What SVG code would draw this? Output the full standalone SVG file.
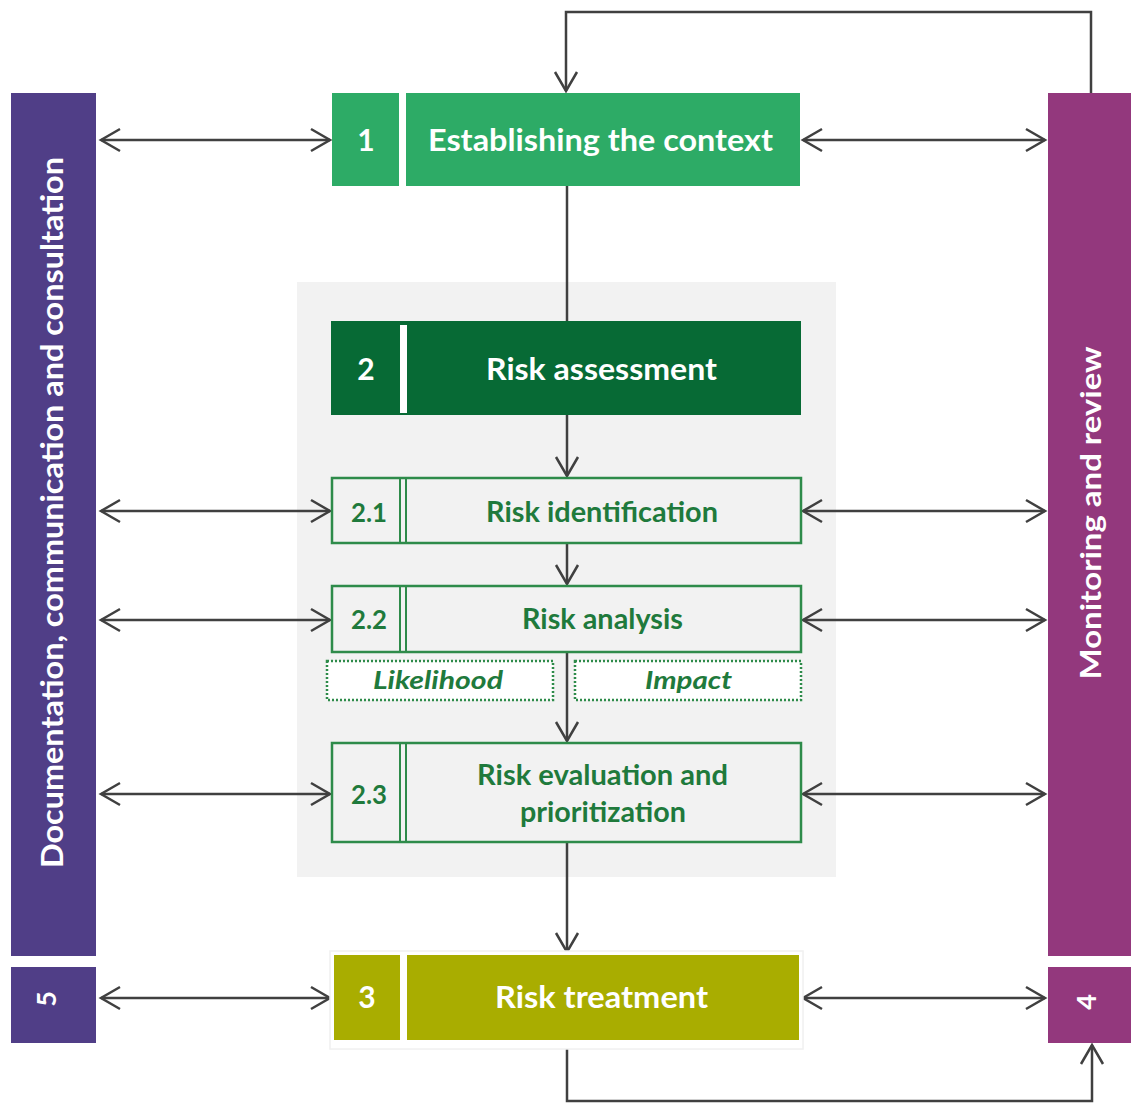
<svg xmlns="http://www.w3.org/2000/svg" width="1131" height="1104" viewBox="0 0 1131 1104">
<defs>
<style>
.t{font-family:Lato,"Open Sans","Liberation Sans",sans-serif;font-weight:bold;text-anchor:middle}
.w{fill:#ffffff}
.g{fill:#1F7A3C}
.ob{fill:#F2F2F2;stroke:#2E8B4A;stroke-width:2.5}
.sep{stroke:#2E8B4A;stroke-width:2}
.dot{fill:#ffffff;stroke:#2E8B4A;stroke-width:2.5;stroke-dasharray:2 2}
.c{fill:none;stroke:#404040;stroke-width:2.5}
</style>
<marker id="ah" markerUnits="userSpaceOnUse" markerWidth="26" markerHeight="28" viewBox="-23 -14 26 28" refX="0" refY="0" orient="auto-start-reverse">
<path d="M-19,-11 L0,0 L-19,11" fill="none" stroke="#404040" stroke-width="2.5"/>
</marker>
</defs>
<rect width="1131" height="1104" fill="#ffffff"/>
<rect id="panel" x="297" y="282" width="539" height="595" fill="#F2F2F2"/>

<g id="connectors">
<path class="c" d="M1091,93 V12 H566 V91" marker-end="url(#ah)"/>
<path class="c" d="M567,186 V322"/>
<path class="c" d="M567,415 V476" marker-end="url(#ah)"/>
<path class="c" d="M567,543 V584" marker-end="url(#ah)"/>
<path class="c" d="M567,652 V741" marker-end="url(#ah)"/>
<path class="c" d="M567,842 V952" marker-end="url(#ah)"/>
<path class="c" d="M567,1041 V1101 H1092 V1045" marker-end="url(#ah)"/>
<path class="c" d="M101,140 H330" marker-start="url(#ah)" marker-end="url(#ah)"/>
<path class="c" d="M803,140 H1045" marker-start="url(#ah)" marker-end="url(#ah)"/>
<path class="c" d="M101,511 H330" marker-start="url(#ah)" marker-end="url(#ah)"/>
<path class="c" d="M803,511 H1045" marker-start="url(#ah)" marker-end="url(#ah)"/>
<path class="c" d="M101,620 H330" marker-start="url(#ah)" marker-end="url(#ah)"/>
<path class="c" d="M803,620 H1045" marker-start="url(#ah)" marker-end="url(#ah)"/>
<path class="c" d="M101,794 H330" marker-start="url(#ah)" marker-end="url(#ah)"/>
<path class="c" d="M803,794 H1045" marker-start="url(#ah)" marker-end="url(#ah)"/>
<path class="c" d="M101,998 H330" marker-start="url(#ah)" marker-end="url(#ah)"/>
<path class="c" d="M803,998 H1045" marker-start="url(#ah)" marker-end="url(#ah)"/>
</g>

<g id="doc-bar">
<rect x="11" y="93" width="85" height="863" fill="#503E87"/>
<text class="t w" transform="translate(63,512.5) rotate(-90)" font-size="30" textLength="711" lengthAdjust="spacingAndGlyphs">Documentation, communication and consultation</text>
</g>
<g id="box5">
<rect x="11" y="967" width="85" height="76" fill="#503E87"/>
<text class="t w" transform="translate(56,999) rotate(-90)" font-size="27">5</text>
</g>
<g id="mon-bar">
<rect x="1048" y="93" width="83" height="863" fill="#93387D"/>
<text class="t w" transform="translate(1101,513) rotate(-90)" font-size="28" textLength="333" lengthAdjust="spacingAndGlyphs">Monitoring and review</text>
</g>
<g id="box4">
<rect x="1048" y="967" width="83" height="76" fill="#93387D"/>
<text class="t w" transform="translate(1096,1002) rotate(-90)" font-size="27">4</text>
</g>

<g id="box1">
<rect x="332" y="93" width="468" height="93" fill="#2DAB66"/>
<rect x="399" y="93" width="7" height="93" fill="#ffffff"/>
<text class="t w" x="366" y="151" font-size="30">1</text>
<text class="t w" x="600.5" y="151" font-size="30" textLength="345" lengthAdjust="spacingAndGlyphs">Establishing the context</text>
</g>

<g id="box2">
<rect x="331" y="321" width="470" height="94" fill="#076A35"/>
<rect x="400" y="325" width="7" height="88" fill="#ffffff"/>
<text class="t w" x="366" y="380" font-size="30">2</text>
<text class="t w" x="601.5" y="380" font-size="30" textLength="231" lengthAdjust="spacingAndGlyphs">Risk assessment</text>
</g>

<g id="box2-1">
<rect class="ob" x="332" y="478" width="469" height="65"/>
<line class="sep" x1="400" y1="478" x2="400" y2="543"/>
<line class="sep" x1="406" y1="478" x2="406" y2="543"/>
<text class="t g" x="369" y="522" font-size="27" textLength="36" lengthAdjust="spacingAndGlyphs">2.1</text>
<text class="t g" x="602" y="522" font-size="28" textLength="232" lengthAdjust="spacingAndGlyphs">Risk identification</text>
</g>

<g id="box2-2">
<rect class="ob" x="332" y="586" width="469" height="66"/>
<line class="sep" x1="400" y1="586" x2="400" y2="652"/>
<line class="sep" x1="406" y1="586" x2="406" y2="652"/>
<text class="t g" x="369" y="629" font-size="27" textLength="36" lengthAdjust="spacingAndGlyphs">2.2</text>
<text class="t g" x="602.5" y="629" font-size="28" textLength="161" lengthAdjust="spacingAndGlyphs">Risk analysis</text>
</g>

<g id="likelihood">
<rect class="dot" x="327" y="661" width="226" height="39"/>
<text class="t g" x="438" y="689" font-size="25" font-style="italic" textLength="130" lengthAdjust="spacingAndGlyphs">Likelihood</text>
</g>
<g id="impact">
<rect class="dot" x="575" y="661" width="226" height="39"/>
<text class="t g" x="688.5" y="689" font-size="25" font-style="italic" textLength="87" lengthAdjust="spacingAndGlyphs">Impact</text>
</g>

<g id="box2-3">
<rect class="ob" x="332" y="743" width="469" height="99"/>
<line class="sep" x1="400" y1="743" x2="400" y2="842"/>
<line class="sep" x1="406" y1="743" x2="406" y2="842"/>
<text class="t g" x="369" y="804" font-size="27" textLength="36" lengthAdjust="spacingAndGlyphs">2.3</text>
<text class="t g" x="602.5" y="785" font-size="28" textLength="251" lengthAdjust="spacingAndGlyphs">Risk evaluation and</text>
<text class="t g" x="603" y="822" font-size="28" textLength="166" lengthAdjust="spacingAndGlyphs">prioritization</text>
</g>

<g id="box3">
<rect x="330" y="951" width="473" height="98" fill="#ffffff" stroke="#F0F0F0" stroke-width="1.5"/>
<rect x="334" y="955" width="66" height="85" fill="#A9AD00"/>
<rect x="407" y="955" width="392" height="85" fill="#A9AD00"/>
<text class="t w" x="367" y="1008" font-size="30">3</text>
<text class="t w" x="601.5" y="1008" font-size="30" textLength="213" lengthAdjust="spacingAndGlyphs">Risk treatment</text>
</g>
</svg>
